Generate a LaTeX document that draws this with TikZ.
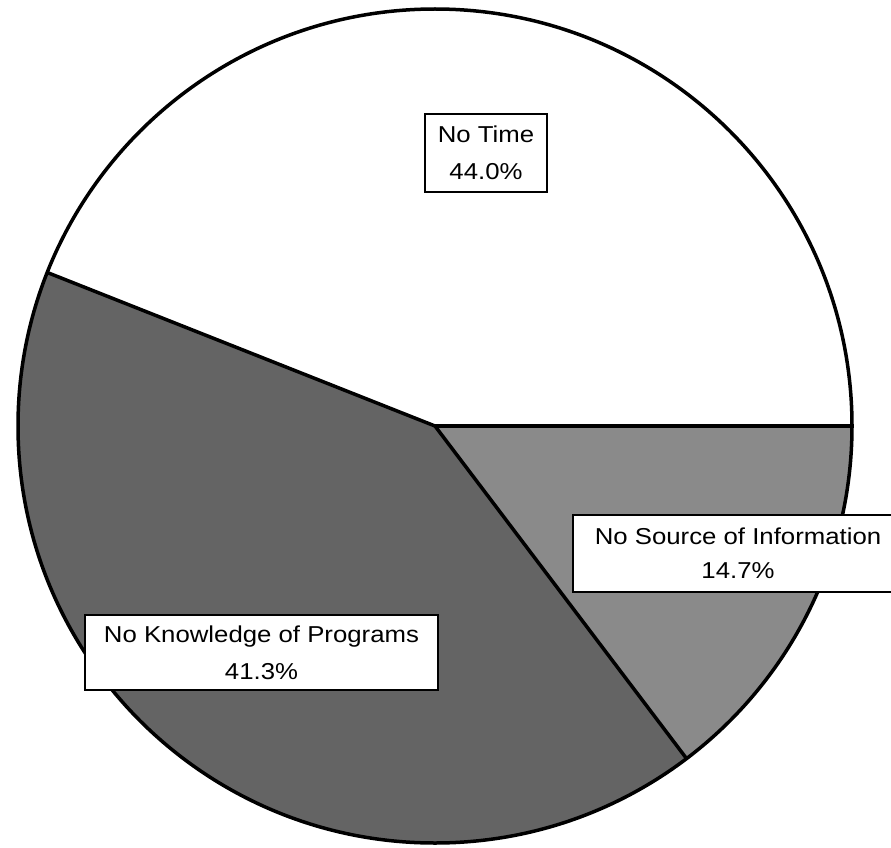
\documentclass[tikz,border=0pt]{standalone}
\usepackage{fontspec}
\setmainfont{Liberation Sans}
\newcommand{\widetxt}[1]{\scalebox{1.12}[1]{#1}}
\definecolor{knowcol}{RGB}{100,100,100}
\definecolor{srccol}{RGB}{138,138,138}
\begin{document}
\begin{tikzpicture}[x=1pt,y=-1pt,
  slice/.style={line width=3.5pt, line join=round, draw=black},
  lbl/.style={draw=black, fill=white, line width=2pt, align=center, inner sep=0pt,
    font=\fontsize{23}{37}\selectfont}]
\useasboundingbox (0,0) rectangle (891,848);
\coordinate (C) at (435,426);
\def\R{417}
% slices
\fill[white] (C) -- ++(0:\R) arc[start angle=0, end angle=-158.4, radius=\R] -- cycle;
\fill[knowcol] (C) -- ++(-158.4:\R) arc[start angle=-158.4, end angle=-307.1, radius=\R] -- cycle;
\fill[srccol] (C) -- ++(-307.1:\R) arc[start angle=-307.1, end angle=-360, radius=\R] -- cycle;
% borders
\draw[slice] (C) circle[radius=\R];
\draw[slice] (C) -- ++(0:\R);
\draw[slice] (C) -- ++(-158.4:\R);
\draw[slice] (C) -- ++(-307.1:\R);
% labels
\node[lbl, minimum width=122pt, minimum height=77pt] (time) at (486,153)
  {\widetxt{No Time}\\\widetxt{44.0\%}};
\node[lbl, minimum width=353pt, minimum height=75pt] (know) at (261.5,652.5)
  {\widetxt{No Knowledge of Programs}\\\widetxt{41.3\%}};
\node[lbl, minimum width=330pt, minimum height=77pt] (src) at (738,553.5)
  {\widetxt{No Source of Information}\\[-3pt]\widetxt{14.7\%}};
\end{tikzpicture}
\end{document}
